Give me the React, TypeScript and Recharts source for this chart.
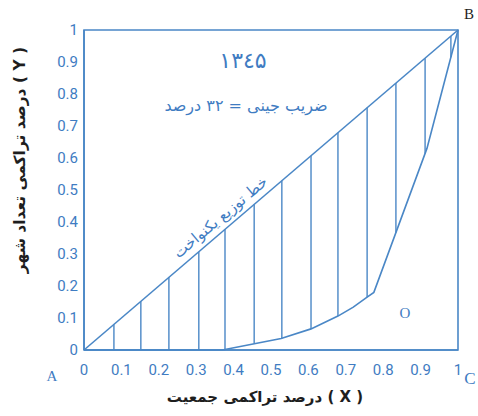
import React from 'react';
import { ComposedChart, Line, XAxis, YAxis, ReferenceLine, ReferenceArea } from 'recharts';

// ---- data ----
const xTicks = [0, 0.1, 0.2, 0.3, 0.4, 0.5, 0.6, 0.7, 0.8, 0.9, 1];
const yTicks = [0, 0.1, 0.2, 0.3, 0.4, 0.5, 0.6, 0.7, 0.8, 0.9, 1];

// line of equal distribution (A -> B)
const equalityX = [0, 1];
const equalityY = [0, 1];

// Lorenz curve (A -> ... -> B)
const lorenzX = [0, 0.37, 0.452, 0.527, 0.607, 0.679, 0.72, 0.757, 0.775, 0.917, 1];
const lorenzY = [0, 0, 0.019, 0.036, 0.066, 0.106, 0.134, 0.165, 0.18, 0.63, 1];

// hatching between the two lines
const hatchX = [0.08, 0.152, 0.227, 0.307, 0.377, 0.455, 0.529, 0.607, 0.679, 0.757, 0.834, 0.912, 0.981];
const hatchBottom = [0, 0, 0, 0, 0.002, 0.02, 0.036, 0.066, 0.106, 0.165, 0.367, 0.614, 0.915];

const titleText = '۱۳٤۵';
const giniText = 'ضریب جینی = ۳۲ درصد';
const equalityLabel = 'خط توزیع یکنواخت';
const xLabel = '( X ) درصد تراکمی جمعیت';
const yLabel = '( Y ) درصد تراکمی تعداد شهر';

const equalityData = equalityX.map((x, i) => ({ x, y: equalityY[i] }));
const lorenzData = lorenzX.map((x, i) => ({ x, y: lorenzY[i] }));

const BLUE = '#4a87c6';
const TXT_BLUE = '#3f7cc2';
const DARK = '#1e1e1e';

export default function App() {
  return (
    <div style={{ position: 'absolute', left: 0, top: 0, width: 478, height: 416, background: '#fff' }}>
      <ComposedChart width={478} height={416} margin={{ top: 30, right: 20, bottom: 36, left: 54 }}>
        <XAxis
          type="number"
          dataKey="x"
          domain={[0, 1]}
          ticks={xTicks}
          height={30}
          axisLine={{ stroke: BLUE, strokeWidth: 1.6 }}
          tickLine={false}
          tickMargin={8}
          tick={{ fill: TXT_BLUE, fontSize: 15, fontFamily: 'Roboto' }}
          interval={0}
        />
        <YAxis
          type="number"
          dataKey="y"
          domain={[0, 1]}
          ticks={yTicks}
          width={30}
          axisLine={{ stroke: BLUE, strokeWidth: 1.6 }}
          tickLine={false}
          tickMargin={0}
          tick={{ fill: TXT_BLUE, fontSize: 15, fontFamily: 'Roboto' }}
          interval={0}
        />
        <ReferenceArea x1={0} x2={1} y1={0} y2={1} fill="none" fillOpacity={0} stroke={BLUE} strokeWidth={1.6} />
        {hatchX.map((hx, i) => (
          <ReferenceLine
            key={i}
            segment={[{ x: hx, y: hatchBottom[i] }, { x: hx, y: hx }]}
            stroke={BLUE}
            strokeWidth={1.4}
          />
        ))}
        <Line data={equalityData} dataKey="y" type="linear" stroke={BLUE} strokeWidth={1.6} dot={false} isAnimationActive={false} />
        <Line data={lorenzData} dataKey="y" type="linear" stroke={BLUE} strokeWidth={1.6} dot={false} isAnimationActive={false} />

        <text x={243} y={68} textAnchor="middle" fill={TXT_BLUE} fontSize={22} fontFamily="DejaVu Sans" direction="rtl">{titleText}</text>
        <text x={246} y={111} textAnchor="middle" fill={TXT_BLUE} fontSize={16} fontFamily="DejaVu Sans" direction="rtl">{giniText}</text>
        <text x={221} y={222} textAnchor="middle" fill={TXT_BLUE} fontSize={15} fontFamily="DejaVu Sans" direction="rtl" transform="rotate(-40 221 218)">{equalityLabel}</text>
        <text x={265} y={402} textAnchor="middle" fill={DARK} fontSize={15} fontWeight="bold" fontFamily="DejaVu Sans" direction="rtl">{xLabel}</text>
        <text x={20} y={165} textAnchor="middle" fill={DARK} fontSize={15.5} fontWeight="bold" fontFamily="DejaVu Sans" direction="rtl" transform="rotate(-90 20 160)">{yLabel}</text>

        <text x={52} y={381} textAnchor="middle" fill={TXT_BLUE} fontSize={15} fontFamily="Liberation Serif">A</text>
        <text x={469} y={19} textAnchor="middle" fill={DARK} fontSize={15} fontFamily="Liberation Serif">B</text>
        <text x={470} y={384} textAnchor="middle" fill={TXT_BLUE} fontSize={17} fontFamily="Liberation Serif">C</text>
        <text x={405} y={318} textAnchor="middle" fill={TXT_BLUE} fontSize={15} fontFamily="Liberation Serif">O</text>
      </ComposedChart>
    </div>
  );
}
